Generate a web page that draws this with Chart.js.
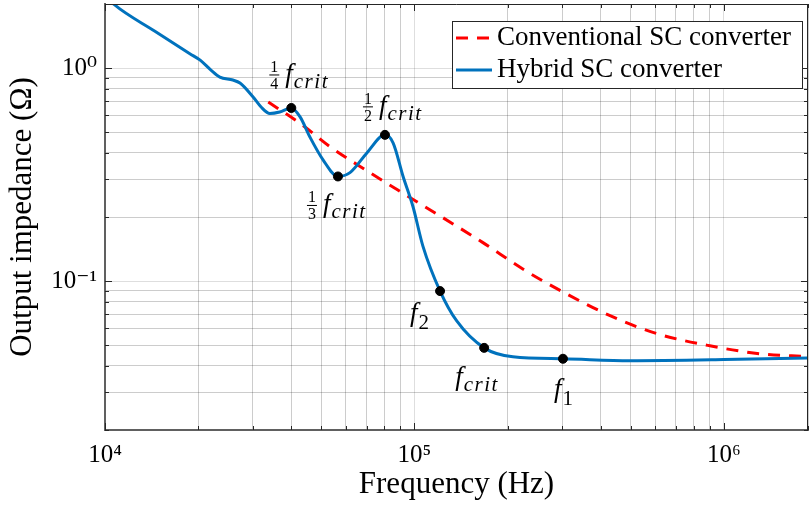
<!DOCTYPE html>
<html>
<head>
<meta charset="utf-8">
<script src="https://cdn.jsdelivr.net/npm/chart.js@4"></script>
<style>
  html, body { margin: 0; padding: 0; background: #fff; }
  #wrap { width: 809px; height: 506px; position: relative; }
</style>
</head>
<body>
<div id="wrap"><canvas id="impedanceChart"></canvas></div>
<script>
// values: frequency in Hz, output impedance in Ohm
const hybridFreq = [1.0e4, 1.07e4, 1.45e4, 1.88e4, 2.03e4, 2.2e4, 2.35e4, 2.59e4, 2.73e4, 3.01e4, 3.2e4,
  3.41e4, 3.67e4, 4.0e4, 4.27e4, 4.59e4, 5.06e4, 5.66e4, 6.19e4, 7.03e4, 8.03e4, 8.53e4, 9.19e4,
  9.89e4, 1.065e5, 1.21e5, 1.37e5, 1.68e5, 2.08e5, 3.02e5, 4.97e5, 1.0e6, 1.87e6];
const hybridZ = [2.2, 1.99, 1.49, 1.169, 1.09, 0.979, 0.908, 0.879, 0.851, 0.732, 0.655,
  0.612, 0.622, 0.650, 0.590, 0.476, 0.372, 0.310, 0.323, 0.401, 0.486, 0.446, 0.310,
  0.224, 0.146, 0.0898, 0.065, 0.0486, 0.0441, 0.0432, 0.0423, 0.0428, 0.0436];

const convFreq = [3.37e4, 4.33e4, 5.33e4, 7.18e4, 9.67e4, 1.66e5, 2.24e5, 3.02e5, 4.38e5, 6.12e5, 9.01e5, 1.31e6, 1.87e6];
const convZ = [0.693, 0.542, 0.428, 0.323, 0.247, 0.152, 0.114, 0.0889, 0.0679, 0.0565, 0.0497, 0.0456, 0.0442];

// marked frequencies on the hybrid curve
const markerFreq = [4.0e4, 5.66e4, 8.03e4, 1.21e5, 1.68e5, 3.02e5];
const markerZ = [0.650, 0.310, 0.486, 0.0898, 0.0486, 0.0432];
const markerFrac = ["1/4", "1/3", "1/2", "", "", ""];
const markerSub = ["crit", "crit", "crit", "2", "crit", "1"];

const xTickValues = [1e4, 1e5, 1e6];
const xTickLabels = ["10\u2074", "10\u2075", "10\u2076"];
const yTickValues = [0.1, 1];
const yTickLabels = ["10\u207B\u00B9", "10\u2070"];

// label offsets from each marker (px): left edge, baseline of the "f"
const labelOffsets = [
  { dx: -22, dy: -26 },
  { dx: -31, dy: 36 },
  { dx: -22, dy: -21 },
  { dx: -32, dy: 30 },
  { dx: -31, dy: 37 },
  { dx: -11, dy: 38 }
];

const SERIF = "'Liberation Serif', 'DejaVu Serif', serif";

function isDecade(v) {
  const m = v / Math.pow(10, Math.floor(Math.log10(v) + 1e-9));
  return Math.abs(m - 1) < 1e-6;
}

// drop the 1.5x ticks chart.js adds, keep 1..9 per decade
function keepIntegerTicks(scale) {
  scale.ticks = scale.ticks.filter(t => {
    const m = t.value / Math.pow(10, Math.floor(Math.log10(t.value) + 1e-9));
    return Math.abs(m - Math.round(m)) < 1e-6 || t.value === scale.max;
  });
}

function gridColor(ctx) {
  const v = ctx.tick && ctx.tick.value;
  if (!v) return "rgba(0,0,0,0.18)";
  return isDecade(v) ? "rgba(0,0,0,0.13)" : "rgba(0,0,0,0.2)";
}

function pickLabel(values, labels) {
  return value => {
    const i = values.findIndex(v => Math.abs(v - value) / v < 1e-6);
    return i >= 0 ? labels[i] : "";
  };
}

function drawMathLabel(ctx, left, base, frac, sub) {
  let x = left;
  ctx.fillStyle = "#000";
  ctx.textBaseline = "alphabetic";
  if (frac) {
    const [num, den] = frac.split("/");
    ctx.font = "16px " + SERIF;
    const w = Math.max(ctx.measureText(num).width, ctx.measureText(den).width) + 2;
    const bar = base - 7;
    ctx.textAlign = "center";
    ctx.fillText(num, x + w / 2, bar - 3);
    ctx.fillText(den, x + w / 2, bar + 14);
    ctx.fillRect(x, bar - 0.5, w, 1);
    x += w + 4;
  }
  ctx.textAlign = "left";
  ctx.font = "italic 27px " + SERIF;
  ctx.fillText("f", x + 2, base);
  x += 2 + ctx.measureText("f").width + 1;
  const digit = /^\d+$/.test(sub);
  ctx.font = (digit ? "" : "italic ") + "21px " + SERIF;
  ctx.letterSpacing = digit ? "0px" : "1.5px";
  ctx.fillText(sub, x, base + (digit ? 8 : 6));
  ctx.letterSpacing = "0px";
}

// inward ticks, box, point labels and legend
const decorations = {
  id: "decorations",
  afterDatasetsDraw(chart) {
    const { ctx, chartArea: a, scales: { x, y } } = chart;
    ctx.save();
    ctx.strokeStyle = "#262626";
    ctx.lineWidth = 1;
    ctx.beginPath();
    x.ticks.forEach(t => {
      const px = Math.round(x.getPixelForValue(t.value)) + 0.5;
      const len = isDecade(t.value) ? 7 : 4;
      ctx.moveTo(px, a.bottom); ctx.lineTo(px, a.bottom - len);
      ctx.moveTo(px, a.top); ctx.lineTo(px, a.top + len);
    });
    y.ticks.forEach(t => {
      const py = Math.round(y.getPixelForValue(t.value)) + 0.5;
      const len = isDecade(t.value) ? 7 : 4;
      ctx.moveTo(a.left, py); ctx.lineTo(a.left + len, py);
      ctx.moveTo(a.right, py); ctx.lineTo(a.right - len, py);
    });
    ctx.moveTo(a.left, a.top + 0.5); ctx.lineTo(a.right, a.top + 0.5);
    ctx.moveTo(a.right - 0.5, a.top); ctx.lineTo(a.right - 0.5, a.bottom);
    ctx.stroke();

    markerFreq.forEach((f, i) => {
      const px = x.getPixelForValue(f);
      const py = y.getPixelForValue(markerZ[i]);
      drawMathLabel(ctx, px + labelOffsets[i].dx, py + labelOffsets[i].dy, markerFrac[i], markerSub[i]);
    });

    // legend box, top right inside the axes
    const entries = chart.data.datasets.filter(d => d.label);
    const bx = a.right - 356, by = a.top + 17, bw = 350, bh = 67;
    ctx.fillStyle = "#fff";
    ctx.fillRect(bx, by, bw, bh);
    ctx.strokeStyle = "#262626";
    ctx.lineWidth = 1;
    ctx.strokeRect(bx + 0.5, by + 0.5, bw, bh);
    entries.forEach((d, i) => {
      const ly = by + 17 + i * 32;
      ctx.strokeStyle = d.borderColor;
      ctx.lineWidth = d.borderWidth;
      ctx.setLineDash(d.borderDash || []);
      ctx.beginPath();
      ctx.moveTo(bx + 4, ly); ctx.lineTo(bx + 40, ly);
      ctx.stroke();
      ctx.setLineDash([]);
      ctx.fillStyle = "#000";
      ctx.font = "27px " + SERIF;
      ctx.textAlign = "left";
      ctx.textBaseline = "middle";
      ctx.fillText(d.label, bx + 45, ly);
    });
    ctx.restore();
  }
};

new Chart(document.getElementById("impedanceChart"), {
  type: "line",
  data: {
    datasets: [
      {
        label: "Conventional SC converter",
        data: convFreq.map((f, i) => ({ x: f, y: convZ[i] })),
        borderColor: "#FF0000",
        borderWidth: 3,
        borderDash: [12, 9],
        pointRadius: 0,
        cubicInterpolationMode: "monotone",
        clip: 0,
        order: 2
      },
      {
        label: "Hybrid SC converter",
        data: hybridFreq.map((f, i) => ({ x: f, y: hybridZ[i] })),
        borderColor: "#0072BD",
        borderWidth: 3,
        pointRadius: 0,
        cubicInterpolationMode: "monotone",
        clip: 0,
        order: 1
      },
      {
        label: "",
        data: markerFreq.map((f, i) => ({ x: f, y: markerZ[i] })),
        showLine: false,
        pointRadius: 4.5,
        pointHoverRadius: 4.5,
        pointBackgroundColor: "#000",
        pointBorderColor: "#000",
        order: 0
      }
    ]
  },
  options: {
    responsive: true,
    maintainAspectRatio: false,
    animation: false,
    events: [],
    layout: { autoPadding: false, padding: { top: 4, right: 1, left: 0, bottom: 0 } },
    plugins: { legend: { display: false }, tooltip: { enabled: false } },
    scales: {
      x: {
        type: "logarithmic",
        min: 1e4,
        max: 1.87e6,
        afterBuildTicks: keepIntegerTicks,
        afterFit: s => { s.height = 76; s.paddingLeft = 0; s.paddingRight = 0; },
        grid: { color: gridColor, lineWidth: 1, drawTicks: false },
        border: { color: "#606060", width: 2 },
        ticks: {
          autoSkip: false,
          maxRotation: 0,
          padding: 10,
          color: "#000",
          font: { family: SERIF, size: 25 },
          callback: pickLabel(xTickValues, xTickLabels)
        },
        title: {
          display: true,
          text: "Frequency (Hz)",
          color: "#000",
          font: { family: SERIF, size: 31 },
          padding: { top: 0, bottom: 3 }
        }
      },
      y: {
        type: "logarithmic",
        min: 0.02,
        max: 2,
        afterBuildTicks: keepIntegerTicks,
        afterFit: s => { s.width = 105; s.paddingTop = 0; s.paddingBottom = 0; },
        grid: { color: gridColor, lineWidth: 1, drawTicks: false },
        border: { color: "#606060", width: 2 },
        ticks: {
          autoSkip: false,
          padding: 8,
          color: "#000",
          font: { family: SERIF, size: 25 },
          callback: pickLabel(yTickValues, yTickLabels)
        },
        title: {
          display: true,
          text: "Output impedance (\u03A9)",
          color: "#000",
          font: { family: SERIF, size: 31 },
          padding: { top: 4, bottom: 0 }
        }
      }
    }
  },
  plugins: [decorations]
});
</script>
</body>
</html>
